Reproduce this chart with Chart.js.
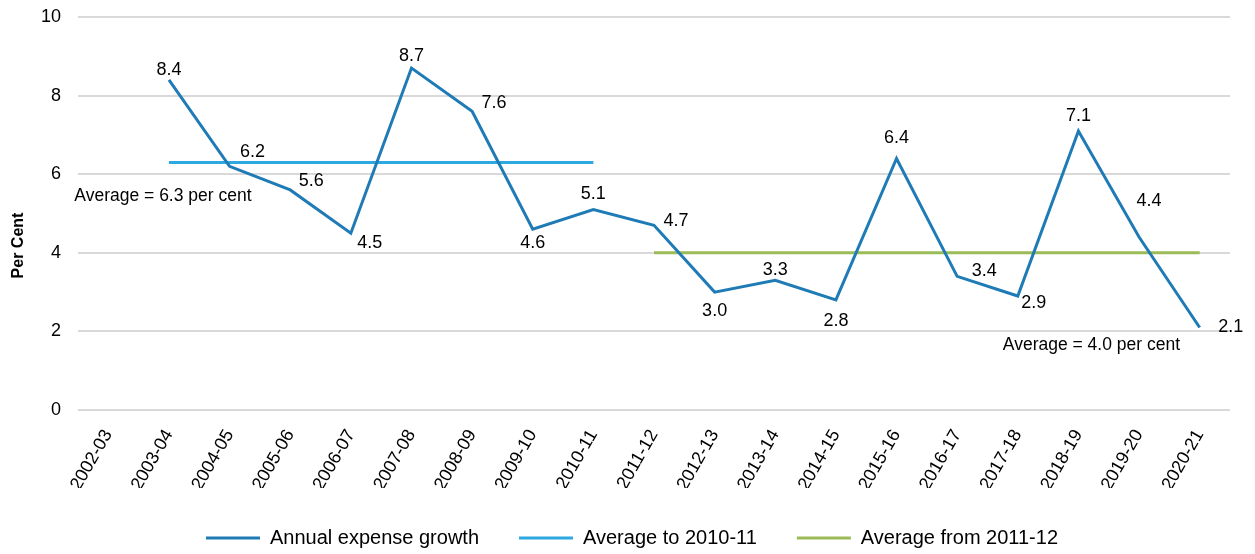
<!DOCTYPE html>
<html>
<head>
<meta charset="utf-8">
<script src="https://cdn.jsdelivr.net/npm/chart.js@4"></script>
<style>
  html, body { margin: 0; padding: 0; background: #fff; }
  #wrap { width: 1255px; height: 554px; }
</style>
</head>
<body>
<div id="wrap"><canvas id="expenseChart" width="1255" height="554"></canvas></div>
<script>
// --- Datos ---
const years = ['2002-03', '2003-04', '2004-05', '2005-06', '2006-07', '2007-08', '2008-09',
  '2009-10', '2010-11', '2011-12', '2012-13', '2013-14', '2014-15', '2015-16', '2016-17',
  '2017-18', '2018-19', '2019-20', '2020-21'];
const expenseGrowth = [null, 8.4, 6.2, 5.6, 4.5, 8.7, 7.6, 4.6, 5.1, 4.7, 3.0, 3.3, 2.8, 6.4, 3.4, 2.9, 7.1, 4.4, 2.1];
const avgTo201011 = [null, 6.3, 6.3, 6.3, 6.3, 6.3, 6.3, 6.3, 6.3, null, null, null, null, null, null, null, null, null, null];
const avgFrom201112 = [null, null, null, null, null, null, null, null, null, 4.0, 4.0, 4.0, 4.0, 4.0, 4.0, 4.0, 4.0, 4.0, 4.0];
const yTicks = [0, 2, 4, 6, 8, 10];
const avgNotes = [
  { text: 'Average = 6.3 per cent', at: '2003-04', value: 5.45 },
  { text: 'Average = 4.0 per cent', at: '2018-19', value: 1.65 }
];

// posición de cada etiqueta respecto al punto [dx, dy]
const labelOffsets = [null, [0, -10], [23, -14], [21, -9], [19, 10], [0, -12], [22, -8],
  [0, 14], [0, -16], [22, -4], [0, 19], [0, -10], [0, 21], [0, -20], [27, -5],
  [16, 7], [0, -15], [10, -36], [31, 0]];

const FONT = "'Liberation Sans', Arial, sans-serif";

// Etiquetas de valores
const valueLabels = {
  id: 'valueLabels',
  afterDatasetsDraw(chart) {
    const ctx = chart.ctx;
    const meta = chart.getDatasetMeta(0);
    ctx.save();
    ctx.font = '18px ' + FONT;
    ctx.fillStyle = '#000';
    ctx.textAlign = 'center';
    ctx.textBaseline = 'middle';
    meta.data.forEach((pt, i) => {
      const v = expenseGrowth[i];
      if (v === null) return;
      const off = labelOffsets[i] || [0, -12];
      ctx.fillText(v.toFixed(1), pt.x + off[0], pt.y + off[1]);
    });
    ctx.restore();
  }
};

// Notas de promedio y título del eje
const avgText = {
  id: 'avgText',
  afterLayout(chart) {
    // centrar la leyenda como en el original
    chart.legend.left += 16;
    chart.legend.right += 16;
  },
  afterDatasetsDraw(chart) {
    const ctx = chart.ctx;
    const x = chart.scales.x, y = chart.scales.y;
    ctx.save();
    ctx.font = '17.5px ' + FONT;
    ctx.fillStyle = '#000';
    ctx.textAlign = 'center';
    ctx.textBaseline = 'middle';
    ctx.fillText(avgNotes[0].text, x.getPixelForValue(years.indexOf(avgNotes[0].at)) - 6, y.getPixelForValue(avgNotes[0].value));
    ctx.fillText(avgNotes[1].text, x.getPixelForValue(years.indexOf(avgNotes[1].at)) + 13, y.getPixelForValue(avgNotes[1].value));

    ctx.translate(18.5, (y.top + y.bottom) / 2 + 32);
    ctx.rotate(-Math.PI / 2);
    ctx.font = 'bold 16px ' + FONT;
    ctx.fillText('Per Cent', 0, 0);
    ctx.restore();
  }
};

const ctx = document.getElementById('expenseChart').getContext('2d');
new Chart(ctx, {
  type: 'line',
  data: {
    labels: years,
    datasets: [
      {
        label: 'Annual expense growth',
        data: expenseGrowth,
        borderColor: '#1f7bb6',
        backgroundColor: '#1f7bb6',
        borderWidth: 3,
        pointRadius: 0,
        tension: 0
      },
      {
        label: 'Average to 2010-11',
        data: avgTo201011,
        borderColor: '#2ea8e0',
        backgroundColor: '#2ea8e0',
        borderWidth: 3,
        pointRadius: 0
      },
      {
        label: 'Average from 2011-12',
        data: avgFrom201112,
        borderColor: '#9bbb59',
        backgroundColor: '#9bbb59',
        borderWidth: 3,
        pointRadius: 0
      }
    ]
  },
  options: {
    responsive: false,
    animation: false,
    layout: { padding: { top: 17, right: 25, left: 2, bottom: 4 } },
    plugins: {
      legend: {
        position: 'bottom',
        maxHeight: 62,
        labels: {
          font: { family: FONT, size: 20 },
          color: '#000',
          usePointStyle: true,
          pointStyle: 'line',
          pointStyleWidth: 54,
          boxHeight: 18,
          padding: 40
        }
      },
      tooltip: { enabled: false }
    },
    scales: {
      x: {
        offset: true,
        afterFit(scale) {
          scale.paddingLeft = 0;
          scale.paddingRight = 0;
          scale.height = 78;
        },
        grid: { display: false },
        border: { display: false },
        ticks: {
          font: { family: FONT, size: 18 },
          color: '#000',
          maxRotation: 60,
          minRotation: 60,
          autoSkip: false,
          padding: 8
        }
      },
      y: {
        min: 0,
        max: 10,
        afterBuildTicks(axis) {
          axis.ticks = yTicks.map(v => ({ value: v }));
        },
        afterFit(scale) {
          scale.paddingTop = 0;
          scale.paddingBottom = 0;
          scale.width = 76;
        },
        grid: { color: '#d9d9d9', lineWidth: 2, drawTicks: false },
        border: { display: false },
        ticks: {
          font: { family: FONT, size: 18 },
          color: '#000',
          padding: 17
        },
        title: { display: false }
      }
    }
  },
  plugins: [valueLabels, avgText]
});
</script>
</body>
</html>
